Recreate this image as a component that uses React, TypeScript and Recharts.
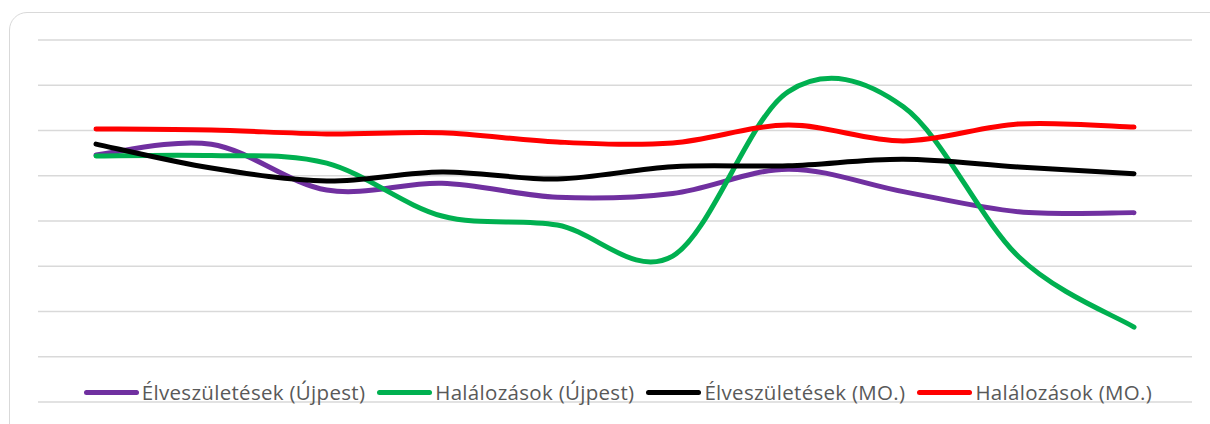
import React from 'react';
import { LineChart, Line, XAxis, YAxis, CartesianGrid, Legend } from 'recharts';

const years = ['2005', '2006', '2007', '2008', '2009', '2010', '2011', '2012', '2013', '2014'];
const birthsUjpest = [10.92, 11.39, 9.37, 9.67, 9.05, 9.22, 10.29, 9.3, 8.41, 8.37];
const deathsUjpest = [10.87, 10.89, 10.56, 8.22, 7.82, 6.45, 13.71, 13.05, 6.42, 3.31];
const birthsHU = [11.4, 10.34, 9.77, 10.17, 9.86, 10.4, 10.44, 10.73, 10.39, 10.09];
const deathsHU = [12.07, 12.02, 11.85, 11.9, 11.49, 11.45, 12.24, 11.54, 12.29, 12.15];
const yTicks = [0, 2, 4, 6, 8, 10, 12, 14, 16];
const seriesKeys = ['bu', 'du', 'bh', 'dh'];
const seriesNames = ['Élveszületések (Újpest)', 'Halálozások (Újpest)', 'Élveszületések (MO.)', 'Halálozások (MO.)'];
const seriesColors = ['#7030A0', '#00B050', '#000000', '#FF0000'];

const data = years.map((y, i) => ({
  year: y,
  bu: birthsUjpest[i],
  du: deathsUjpest[i],
  bh: birthsHU[i],
  dh: deathsHU[i],
}));

// Excel-like smoothed line (uniform Catmull-Rom as cubic Bezier)
function excelSmooth(context: any) {
  let xs: number[] = [];
  let ys: number[] = [];
  return {
    areaStart() {},
    areaEnd() {},
    lineStart() {
      xs = [];
      ys = [];
    },
    point(x: number, y: number) {
      xs.push(+x);
      ys.push(+y);
    },
    lineEnd() {
      const n = xs.length;
      if (!n) return;
      context.moveTo(xs[0], ys[0]);
      if (n === 1) {
        context.lineTo(xs[0], ys[0]);
        return;
      }
      for (let i = 0; i < n - 1; i++) {
        const i0 = Math.max(0, i - 1);
        const i3 = Math.min(n - 1, i + 2);
        const c1x = xs[i] + (xs[i + 1] - xs[i0]) / 6;
        const c1y = ys[i] + (ys[i + 1] - ys[i0]) / 6;
        const c2x = xs[i + 1] - (xs[i3] - xs[i]) / 6;
        const c2y = ys[i + 1] - (ys[i3] - ys[i]) / 6;
        context.bezierCurveTo(c1x, c1y, c2x, c2y, xs[i + 1], ys[i + 1]);
      }
    },
  };
}

const FONT = '"Open Sans", Lato, sans-serif';

const renderLegend = (props: any) => {
  const payload = props.payload || [];
  const items = [...payload].sort(
    (a: any, b: any) => seriesKeys.indexOf(a.dataKey) - seriesKeys.indexOf(b.dataKey)
  );
  return (
    <div
      style={{
        display: 'flex',
        justifyContent: 'center',
        alignItems: 'center',
        gap: 12,
        height: 40,
        fontFamily: FONT,
        fontSize: 20.5,
        letterSpacing: 0.3,
        color: '#595959',
        whiteSpace: 'nowrap',
      }}
    >
      {items.map((p: any) => (
        <div key={p.value} style={{ display: 'flex', alignItems: 'center' }}>
          <span
            style={{
              display: 'inline-block',
              width: 55,
              height: 5,
              borderRadius: 3,
              background: p.color,
              marginRight: 3,
            }}
          />
          <span>{p.value}</span>
        </div>
      ))}
    </div>
  );
};

export default function App() {
  return (
    <div style={{ position: 'absolute', left: 0, top: 0, width: 1210, height: 424, overflow: 'hidden', background: '#fff' }}>
      <div
        style={{
          position: 'absolute',
          left: 9,
          top: 12,
          width: 1220,
          height: 430,
          border: '1.5px solid #d9d9d9',
          borderRadius: 18,
          boxSizing: 'border-box',
        }}
      />
      <div style={{ position: 'absolute', left: 0, top: 0 }}>
        <LineChart width={1210} height={424} data={data} margin={{ top: 40, left: 38, right: 18, bottom: 22 }}>
          <CartesianGrid vertical={false} stroke="#d9d9d9" strokeWidth={1.5} />
          <XAxis dataKey="year" hide padding={{ left: 58, right: 58 }} />
          <YAxis hide domain={[0, 16]} ticks={yTicks} />
          <Legend
            layout="horizontal"
            verticalAlign="middle"
            align="center"
            content={renderLegend}
            wrapperStyle={{ position: 'absolute', left: 41, top: 372, width: 1154, height: 40 }}
          />
          {seriesKeys.map((k, i) => (
            <Line
              key={k}
              name={seriesNames[i]}
              dataKey={k}
              type={excelSmooth as any}
              stroke={seriesColors[i]}
              strokeWidth={5}
              strokeLinecap="round"
              dot={false}
              activeDot={false}
              isAnimationActive={false}
            />
          ))}
        </LineChart>
      </div>
    </div>
  );
}
